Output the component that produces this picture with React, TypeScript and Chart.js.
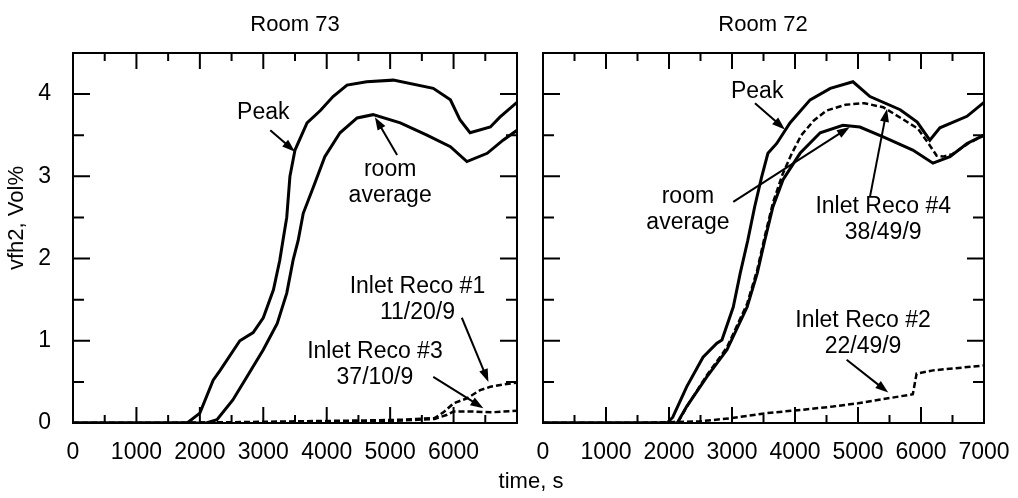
import React, { useEffect, useRef } from 'react';
import { Chart, registerables } from 'chart.js';

Chart.register(...registerables);

const FONT = '"Liberation Sans", Arial, Helvetica, sans-serif';

// ---- axis ticks / labels ----
const xLabelsLeft = [0, 1000, 2000, 3000, 4000, 5000, 6000];
const xLabelsRight = [0, 1000, 2000, 3000, 4000, 5000, 6000, 7000];
const yLabels = [0, 1, 2, 3, 4];
const xMin = 0;
const xMax = 7000;
const yMin = 0;
const yMax = 4.5;

// ---- Room 73 ----
const r73PeakTime = [0, 1000, 1800, 2000, 2210, 2320, 2630, 2840, 3000, 3160, 3260, 3310, 3370, 3420, 3500, 3690, 3900, 4100, 4320, 4630, 5050, 5680, 5950, 6100, 6260, 6580, 6730, 7000];
const r73PeakVal = [0, 0, 0, 0.12, 0.52, 0.64, 1.0, 1.1, 1.28, 1.62, 1.98, 2.22, 2.5, 3.0, 3.32, 3.65, 3.8, 3.97, 4.11, 4.15, 4.17, 4.07, 3.93, 3.69, 3.53, 3.6, 3.72, 3.9];

const r73AvgTime = [0, 1000, 2100, 2270, 2520, 2740, 3000, 3220, 3370, 3470, 3550, 3630, 3790, 3970, 4210, 4480, 4730, 5160, 5580, 5950, 6210, 6530, 6780, 7000];
const r73AvgVal = [0, 0, 0, 0.04, 0.28, 0.56, 0.89, 1.21, 1.58, 1.98, 2.22, 2.55, 2.87, 3.24, 3.53, 3.71, 3.75, 3.65, 3.5, 3.36, 3.18, 3.28, 3.44, 3.56];

const r73Inlet1Time = [0, 1500, 2500, 3500, 4500, 5200, 5700, 5840, 6000, 6210, 6420, 6580, 6800, 7000];
const r73Inlet1Val = [0, 0, 0.01, 0.02, 0.03, 0.04, 0.06, 0.13, 0.24, 0.3, 0.4, 0.44, 0.47, 0.49];

const r73Inlet3Time = [0, 1500, 2500, 3500, 4500, 5200, 5700, 5900, 6000, 6300, 6600, 7000];
const r73Inlet3Val = [0, 0, 0.005, 0.01, 0.02, 0.03, 0.05, 0.1, 0.14, 0.14, 0.13, 0.15];

// ---- Room 72 ----
const r72PeakTime = [0, 1000, 1970, 2060, 2280, 2540, 2760, 2840, 3020, 3130, 3250, 3360, 3470, 3570, 3710, 3920, 4240, 4560, 4920, 5190, 5670, 5940, 6140, 6300, 6730, 7000];
const r72PeakVal = [0, 0, 0, 0.07, 0.44, 0.8, 0.97, 1.01, 1.41, 1.82, 2.22, 2.63, 2.99, 3.28, 3.4, 3.65, 3.93, 4.07, 4.15, 3.97, 3.81, 3.66, 3.44, 3.59, 3.73, 3.9];

const r72AvgTime = [0, 1000, 2130, 2280, 2600, 2920, 3240, 3400, 3520, 3650, 3810, 4080, 4400, 4760, 5030, 5400, 5870, 6190, 6460, 6730, 7000];
const r72AvgVal = [0, 0, 0, 0.2, 0.56, 0.89, 1.41, 1.82, 2.22, 2.63, 2.96, 3.28, 3.53, 3.62, 3.6, 3.48, 3.32, 3.16, 3.24, 3.4, 3.5];

const r72Inlet4Time = [0, 1000, 2000, 2150, 2300, 2600, 2920, 3240, 3400, 3520, 3650, 3800, 3950, 4100, 4300, 4500, 4800, 5100, 5400, 5700, 5950, 6100, 6250, 6350, 6500, 6750, 7000];
const r72Inlet4Val = [0, 0, 0, 0.02, 0.22, 0.58, 0.92, 1.45, 1.86, 2.27, 2.68, 3.02, 3.28, 3.5, 3.68, 3.8, 3.87, 3.89, 3.84, 3.7, 3.58, 3.42, 3.25, 3.24, 3.27, 3.4, 3.5];

const r72Inlet2Time = [0, 1500, 2000, 2490, 3000, 3550, 4100, 4600, 5000, 5400, 5870, 5930, 6190, 6600, 7000];
const r72Inlet2Val = [0, 0, 0.01, 0.02, 0.06, 0.12, 0.16, 0.2, 0.24, 0.29, 0.35, 0.6, 0.64, 0.67, 0.7];

// ---- annotations (data coordinates) ----
type Note = { lines: string[]; t: number; v: number; from: [number, number]; to: [number, number] };

const notes73: Note[] = [
  { lines: ['Peak'], t: 3000, v: 3.77, from: [3110, 3.56], to: [3500, 3.3] },
  { lines: ['room', 'average'], t: 5000, v: 3.08, from: [5110, 3.26], to: [4760, 3.72] },
  { lines: ['Inlet Reco #1', '11/20/9'], t: 5430, v: 1.66, from: [6130, 1.28], to: [6550, 0.5] },
  { lines: ['Inlet Reco #3', '37/10/9'], t: 4760, v: 0.87, from: [5680, 0.56], to: [6470, 0.18] },
];

const notes72: Note[] = [
  { lines: ['Peak'], t: 3400, v: 4.03, from: [3365, 3.89], to: [3840, 3.57] },
  { lines: ['room', 'average'], t: 2300, v: 2.75, from: [3020, 2.69], to: [4870, 3.6] },
  { lines: ['Inlet Reco #4', '38/49/9'], t: 5400, v: 2.63, from: [5190, 2.75], to: [5460, 3.82] },
  { lines: ['Inlet Reco #2', '22/49/9'], t: 5080, v: 1.25, from: [4820, 0.77], to: [5480, 0.37] },
];

const toPoints = (ts: number[], vs: number[]) => ts.map((t, i) => ({ x: t, y: vs[i] }));

const solid = (label: string, ts: number[], vs: number[]) => ({
  label,
  data: toPoints(ts, vs),
  borderColor: '#000',
  borderWidth: 3,
  pointRadius: 0,
  tension: 0,
  fill: false,
});

const dashed = (label: string, ts: number[], vs: number[]) => ({
  label,
  data: toPoints(ts, vs),
  borderColor: '#000',
  borderWidth: 2.5,
  borderDash: [6, 3],
  pointRadius: 0,
  tension: 0,
  fill: false,
});

const frameTicksPlugin = {
  id: 'frameTicks',
  afterDatasetsDraw(chart: any) {
    const { ctx, chartArea: a, scales } = chart;
    const x = scales.x;
    const y = scales.y;
    ctx.save();
    ctx.strokeStyle = '#000';
    ctx.lineWidth = 2;
    ctx.strokeRect(a.left, a.top, a.right - a.left, a.bottom - a.top);
    ctx.beginPath();
    for (let t = xMin + 500; t < xMax; t += 500) {
      const px = x.getPixelForValue(t);
      const len = t % 1000 === 0 ? 16 : 8;
      ctx.moveTo(px, a.bottom);
      ctx.lineTo(px, a.bottom - len);
      ctx.moveTo(px, a.top);
      ctx.lineTo(px, a.top + len);
    }
    for (let v = yMin + 0.5; v < yMax + 0.01; v += 0.5) {
      const py = y.getPixelForValue(v);
      const len = Math.abs(v - Math.round(v)) < 0.01 ? 17 : 11;
      ctx.moveTo(a.left, py);
      ctx.lineTo(a.left + len, py);
      ctx.moveTo(a.right, py);
      ctx.lineTo(a.right - len, py);
    }
    ctx.stroke();
    ctx.restore();
  },
};

const makeNotesPlugin = (notes: Note[]) => ({
  id: 'notes',
  afterDatasetsDraw(chart: any) {
    const { ctx, scales } = chart;
    const x = scales.x;
    const y = scales.y;
    ctx.save();
    ctx.fillStyle = '#000';
    ctx.strokeStyle = '#000';
    ctx.font = `23px ${FONT}`;
    ctx.textAlign = 'center';
    ctx.textBaseline = 'middle';
    notes.forEach((n) => {
      const cx = x.getPixelForValue(n.t);
      const cy = y.getPixelForValue(n.v);
      n.lines.forEach((line, i) => ctx.fillText(line, cx, cy + i * 26));
      const x1 = x.getPixelForValue(n.from[0]);
      const y1 = y.getPixelForValue(n.from[1]);
      const x2 = x.getPixelForValue(n.to[0]);
      const y2 = y.getPixelForValue(n.to[1]);
      const ang = Math.atan2(y2 - y1, x2 - x1);
      const hl = 13;
      const hw = 4.5;
      ctx.lineWidth = 2;
      ctx.beginPath();
      ctx.moveTo(x1, y1);
      ctx.lineTo(x2 - Math.cos(ang) * hl * 0.8, y2 - Math.sin(ang) * hl * 0.8);
      ctx.stroke();
      ctx.beginPath();
      ctx.moveTo(x2, y2);
      ctx.lineTo(x2 - Math.cos(ang) * hl - Math.sin(ang) * hw, y2 - Math.sin(ang) * hl + Math.cos(ang) * hw);
      ctx.lineTo(x2 - Math.cos(ang) * hl + Math.sin(ang) * hw, y2 - Math.sin(ang) * hl - Math.cos(ang) * hw);
      ctx.closePath();
      ctx.fill();
    });
    ctx.restore();
  },
});

function makeConfig(
  datasets: any[],
  xLabels: number[],
  showY: boolean,
  padding: { left: number; right: number; top: number; bottom: number },
  notes: Note[]
): any {
  return {
    type: 'line',
    data: { datasets },
    options: {
      responsive: false,
      animation: false,
      devicePixelRatio: 1,
      layout: { padding },
      plugins: { legend: { display: false }, tooltip: { enabled: false }, title: { display: false } },
      scales: {
        x: {
          type: 'linear',
          min: xMin,
          max: xMax,
          afterBuildTicks: (s: any) => {
            s.ticks = xLabels.map((v) => ({ value: v }));
          },
          afterFit: (s: any) => {
            s.height = 75;
          },
          grid: { display: false, drawTicks: true, tickLength: 16 },
          border: { display: false },
          ticks: {
            autoSkip: false,
            maxRotation: 0,
            minRotation: 0,
            padding: 0,
            color: '#000',
            font: { family: FONT, size: 23 },
            callback: (v: any) => String(v),
          },
        },
        y: {
          type: 'linear',
          min: yMin,
          max: yMax,
          display: showY,
          afterBuildTicks: (s: any) => {
            s.ticks = yLabels.map((v) => ({ value: v }));
          },
          afterFit: (s: any) => {
            s.width = showY ? 73 : 0;
          },
          grid: { display: false, drawTicks: true, tickLength: 22 },
          border: { display: false },
          ticks: {
            padding: 0,
            color: '#000',
            font: { family: FONT, size: 23 },
            callback: (v: any) => String(v),
          },
        },
      },
    },
    plugins: [frameTicksPlugin, makeNotesPlugin(notes)],
  };
}

function Panel(props: { config: any; left: number; width: number }) {
  const ref = useRef<HTMLCanvasElement | null>(null);
  useEffect(() => {
    if (!ref.current) return;
    const chart = new Chart(ref.current, props.config);
    return () => chart.destroy();
  }, []);
  return (
    <canvas
      ref={ref}
      width={props.width}
      height={498}
      style={{ position: 'absolute', left: props.left, top: 0, width: props.width, height: 498 }}
    />
  );
}

const textStyle = (x: number, y: number, size: number, rotate = 0): React.CSSProperties => ({
  position: 'absolute',
  left: x,
  top: y,
  transform: `translate(-50%, -50%) rotate(${rotate}deg)`,
  fontFamily: FONT,
  fontSize: size,
  lineHeight: 1,
  whiteSpace: 'nowrap',
  color: '#000',
});

export default function App() {
  const leftConfig = makeConfig(
    [
      solid('Peak', r73PeakTime, r73PeakVal),
      solid('room average', r73AvgTime, r73AvgVal),
      dashed('Inlet Reco #1 11/20/9', r73Inlet1Time, r73Inlet1Val),
      dashed('Inlet Reco #3 37/10/9', r73Inlet3Time, r73Inlet3Val),
    ],
    xLabelsLeft,
    true,
    { left: 0, right: 8, top: 53, bottom: 0 },
    notes73
  );
  const rightConfig = makeConfig(
    [
      solid('Peak', r72PeakTime, r72PeakVal),
      solid('room average', r72AvgTime, r72AvgVal),
      dashed('Inlet Reco #4 38/49/9', r72Inlet4Time, r72Inlet4Val),
      dashed('Inlet Reco #2 22/49/9', r72Inlet2Time, r72Inlet2Val),
    ],
    xLabelsRight,
    false,
    { left: 16, right: 34, top: 53, bottom: 0 },
    notes72
  );
  return (
    <div style={{ position: 'absolute', left: 0, top: 0, width: 1018, height: 498, background: '#fff', overflow: 'hidden' }}>
      <Panel config={leftConfig} left={0} width={525} />
      <Panel config={rightConfig} left={527} width={491} />
      <div style={textStyle(295, 24, 22)}>Room 73</div>
      <div style={textStyle(763, 24, 22)}>Room 72</div>
      <div style={textStyle(531, 481, 22)}>time, s</div>
      <div style={textStyle(16, 218, 22, -90)}>vfh2, Vol%</div>
    </div>
  );
}
